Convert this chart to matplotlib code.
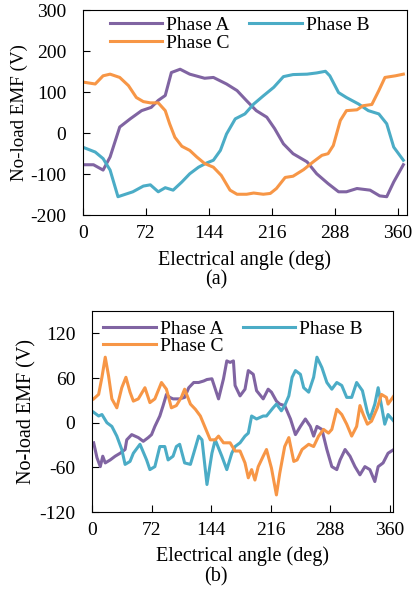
import matplotlib
matplotlib.use('Agg')
import matplotlib.pyplot as plt

plt.rcParams['font.family'] = ['Liberation Serif', 'DejaVu Serif']
plt.rcParams['font.size'] = 14
plt.rcParams['axes.unicode_minus'] = False

# (a) no-load EMF
a_ang = [2, 12, 23, 31, 42, 54, 67, 78, 86, 94, 101, 111, 122, 139, 149, 164, 176,
         187, 198, 210, 219, 229, 240, 256, 267, 280, 292, 301, 313, 328, 339, 347, 355, 366]
a_emf = [-77, -77, -90, -58, 15, 35, 55, 63, 80, 92, 148, 156, 144, 134, 136, 120, 104,
         79, 55, 39, 11, -26, -50, -70, -99, -123, -143, -143, -135, -139, -153, -155, -119, -77]
b_ang = [2, 14, 23, 31, 40, 57, 69, 77, 86, 94, 103, 113, 122, 132, 141, 149, 157, 164, 174,
         185, 195, 206, 218, 229, 240, 256, 267, 277, 282, 292, 301, 315, 326, 338, 347, 355, 366]
b_emf = [-36, -46, -62, -90, -155, -143, -129, -126, -143, -133, -139, -119, -99, -83, -73,
         -66, -42, -2, 35, 47, 71, 91, 112, 138, 143, 144, 147, 151, 140, 99, 87, 71, 55, 47,
         23, -34, -66]
c_ang = [2, 14, 23, 31, 42, 52, 61, 69, 77, 86, 94, 99, 105, 113, 122, 130, 139, 149, 158,
         168, 176, 187, 195, 206, 214, 221, 231, 240, 252, 263, 273, 280, 286, 294, 301, 313,
         320, 330, 338, 345, 357, 366]
c_emf = [124, 120, 140, 144, 136, 116, 87, 77, 74, 74, 55, 23, -10, -32, -42, -58, -74, -83,
         -103, -139, -149, -149, -146, -149, -147, -135, -108, -105, -89, -70, -54, -50, -30,
         31, 55, 57, 67, 70, 104, 136, 140, 144]

# (b) no-load EMF
a2_ang = [2, 6, 10, 13, 16, 22, 28, 34, 40, 42, 48, 56, 62, 68, 72, 76, 82, 86, 90, 94, 98,
          106, 112, 117, 123, 129, 135, 139, 145, 153, 159, 163, 167, 171, 173, 179, 185, 189,
          195, 199, 207, 213, 217, 223, 227, 233, 240, 246, 252, 258, 264, 268, 272, 278, 284,
          290, 296, 300, 306, 312, 318, 324, 330, 336, 342, 346, 352, 358, 365]
a2_emf = [-27, -47, -59, -45, -54, -50, -45, -41, -36, -23, -16, -20, -25, -20, -16, -5, 9,
          23, 38, 34, 32, 32, 34, 47, 54, 54, 56, 58, 59, 32, 59, 83, 81, 83, 50, 36, 45, 70,
          65, 43, 32, 45, 41, 29, 25, 23, 5, -16, -5, 5, -5, -18, -5, -9, -36, -59, -63, -50,
          -36, -45, -59, -70, -59, -63, -79, -59, -54, -41, -36]
b2_ang = [2, 8, 12, 18, 24, 30, 36, 40, 46, 50, 58, 66, 70, 76, 82, 88, 92, 98, 102, 106,
          112, 119, 123, 129, 133, 139, 145, 149, 153, 157, 163, 169, 173, 179, 185, 189, 193,
          199, 207, 211, 219, 223, 229, 233, 238, 242, 246, 252, 256, 262, 268, 272, 278, 284,
          290, 296, 302, 308, 314, 320, 327, 333, 336, 342, 346, 350, 354, 358, 365]
b2_emf = [14, 9, 11, 0, -5, -18, -36, -56, -52, -41, -29, -50, -63, -59, -32, -32, -50, -45,
          -32, -29, -54, -56, -41, -18, -23, -83, -41, -23, -34, -45, -63, -41, -32, -27, -18,
          -14, 9, 5, 9, 9, 20, 25, 16, 23, 36, 61, 70, 65, 47, 41, 61, 88, 74, 54, 45, 54, 50,
          34, 34, 54, 43, 14, 5, 25, 47, 23, -2, 11, 2]
c2_ang = [2, 8, 12, 16, 20, 24, 30, 36, 41, 46, 50, 56, 64, 70, 76, 84, 90, 96, 102, 108,
          112, 119, 125, 131, 137, 143, 149, 153, 159, 167, 173, 179, 185, 189, 193, 197, 201,
          207, 211, 217, 223, 227, 233, 238, 244, 248, 254, 262, 268, 274, 280, 286, 290, 296,
          302, 308, 314, 320, 324, 328, 333, 338, 345, 350, 356, 358, 365]
c2_emf = [32, 38, 61, 88, 63, 32, 20, 47, 61, 41, 29, 32, 47, 27, 32, 54, 45, 20, 23, 34, 45,
          25, 18, 9, -7, -23, -23, -18, -27, -27, -38, -38, -54, -74, -63, -77, -59, -45, -36,
          -61, -97, -68, -32, -20, -52, -50, -36, -29, -32, -18, -9, -14, -9, 18, 11, -2, -18,
          -5, 23, 11, -2, 2, 20, 38, 34, 25, 36]

labels = ['Phase A', 'Phase B', 'Phase C']
colors = ['#8064a2', '#4bacc6', '#f79646']
x_ticks = [0, 72, 144, 216, 288, 360]

fig = plt.figure(figsize=(4.19, 6.01), dpi=100)
ax1 = fig.add_axes([0.198, 0.642, 0.773, 0.341])
ax2 = fig.add_axes([0.2196, 0.148, 0.7184, 0.3345])

# axes, data, xlim, ylim, yticks, legend anchor, y label x/size, tag, tag y
panels = [
    (ax1, [(a_ang, a_emf), (b_ang, b_emf), (c_ang, c_emf)], (0, 370), (-200, 300),
     range(-200, 301, 100), (0.083, 0.97), -0.17, 13.7, '(a)', 0.534),
    (ax2, [(a2_ang, a2_emf), (b2_ang, b2_emf), (c2_ang, c2_emf)], (0, 364), (-120, 150),
     range(-120, 121, 60), (0.038, 0.955), -0.183, 14.5, '(b)', 0.040),
]

for ax, series, xlim, ylim, yticks, leg_xy, ylab_x, ylab_fs, tag, tag_y in panels:
    lines = []
    for (xs, ys), lab, col in zip(series, labels, colors):
        ln, = ax.plot(xs, ys, color=col, lw=2.2, label=lab)
        lines.append(ln)
    ax.set_xlim(*xlim)
    ax.set_ylim(*ylim)
    ax.set_xticks(x_ticks)
    ax.set_yticks(list(yticks))
    ax.tick_params(direction='in', length=5, width=0.8, labelsize=14)
    ax.tick_params(axis='x', pad=7)
    ax.tick_params(axis='y', pad=12)
    for sp in ax.spines.values():
        sp.set_linewidth(0.8)
    ax.set_xlabel('Electrical angle (deg)', fontsize=14.5)
    ax.xaxis.set_label_coords(0.5, -0.17)
    ax.set_ylabel('No-load EMF (V)', fontsize=ylab_fs)
    ax.yaxis.set_label_coords(ylab_x, 0.5)
    # legend fills columns first: A, C in column one, B in column two
    ax.legend([lines[0], lines[2], lines[1]], [labels[0], labels[2], labels[1]],
              ncol=2, frameon=False, loc='upper left', bbox_to_anchor=leg_xy,
              borderaxespad=0, borderpad=0, handlelength=2.7, handletextpad=0.2,
              columnspacing=1.0, labelspacing=0.0, fontsize=14)
    fig.text(0.516, tag_y, tag, ha='center', va='center', fontsize=14.5)

fig.savefig('out.png', dpi=100)
